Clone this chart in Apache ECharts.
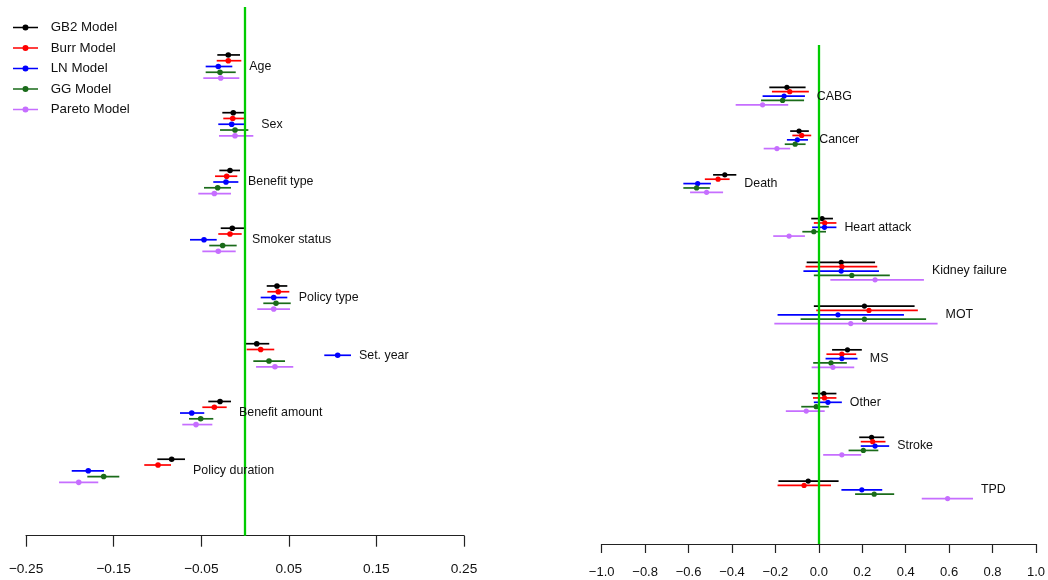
<!DOCTYPE html>
<html>
<head>
<meta charset="utf-8">
<script src="https://cdn.jsdelivr.net/npm/echarts@6/dist/echarts.min.js"></script>
<style>
html,body{margin:0;padding:0;background:#fff;}
#chart{width:1048px;height:580px;}
</style>
</head>
<body>
<div id="chart"></div>
<script>
// ---------- data ----------
const models = ['GB2 Model', 'Burr Model', 'LN Model', 'GG Model', 'Pareto Model'];
const leftCategories = ['Age', 'Sex', 'Benefit type', 'Smoker status', 'Policy type', 'Set. year', 'Benefit amount', 'Policy duration'];
const rightCategories = ['CABG', 'Cancer', 'Death', 'Heart attack', 'Kidney failure', 'MOT', 'MS', 'Other', 'Stroke', 'TPD'];
const leftTicks = [-0.25, -0.15, -0.05, 0.05, 0.15, 0.25];
const rightTicks = [-1.0, -0.8, -0.6, -0.4, -0.2, 0.0, 0.2, 0.4, 0.6, 0.8, 1.0];

// [estimate, lower, upper] per category
const leftGB2 = [[-0.0191,-0.0316,-0.0057],[-0.0134,-0.0259,0.0000],[-0.0171,-0.0293,-0.0057],[-0.0145,-0.0277,-0.0011],[0.0365,0.0248,0.0483],[0.0134,0.0000,0.0277],[-0.0285,-0.0419,-0.0160],[-0.0837,-0.1001,-0.0685]];
const leftBurr = [[-0.0191,-0.0323,-0.0042],[-0.0140,-0.0248,0.0008],[-0.0209,-0.0342,-0.0088],[-0.0171,-0.0305,-0.0038],[0.0380,0.0255,0.0506],[0.0179,0.0019,0.0334],[-0.0350,-0.0487,-0.0209],[-0.0993,-0.1150,-0.0845]];
const leftLN = [[-0.0305,-0.0449,-0.0145],[-0.0152,-0.0305,-0.0008],[-0.0217,-0.0362,-0.0076],[-0.0468,-0.0628,-0.0323],[0.0328,0.0179,0.0483],[0.1058,0.0905,0.1210],[-0.0608,-0.0742,-0.0465],[-0.1789,-0.1978,-0.1610]];
const leftGG = [[-0.0285,-0.0449,-0.0106],[-0.0114,-0.0285,0.0038],[-0.0312,-0.0468,-0.0160],[-0.0255,-0.0408,-0.0095],[0.0354,0.0209,0.0522],[0.0274,0.0095,0.0457],[-0.0506,-0.0639,-0.0362],[-0.1613,-0.1800,-0.1435]];
const leftPareto = [[-0.0277,-0.0476,-0.0065],[-0.0114,-0.0297,0.0095],[-0.0350,-0.0533,-0.0160],[-0.0305,-0.0487,-0.0106],[0.0328,0.0140,0.0514],[0.0342,0.0126,0.0551],[-0.0559,-0.0716,-0.0373],[-0.1898,-0.2123,-0.1675]];

const rightGB2 = [[-0.147,-0.228,-0.061],[-0.091,-0.132,-0.046],[-0.433,-0.487,-0.380],[0.015,-0.035,0.065],[0.103,-0.056,0.259],[0.210,-0.023,0.441],[0.132,0.061,0.198],[0.023,-0.033,0.081],[0.243,0.186,0.301],[-0.049,-0.186,0.091]];
const rightBurr = [[-0.134,-0.216,-0.046],[-0.079,-0.122,-0.035],[-0.464,-0.525,-0.411],[0.027,-0.023,0.081],[0.106,-0.061,0.269],[0.231,-0.012,0.456],[0.106,0.035,0.172],[0.026,-0.027,0.081],[0.248,0.193,0.307],[-0.068,-0.190,0.056]];
const rightLN = [[-0.160,-0.259,-0.064],[-0.099,-0.147,-0.050],[-0.558,-0.624,-0.497],[0.026,-0.031,0.081],[0.103,-0.071,0.277],[0.088,-0.190,0.392],[0.106,0.031,0.178],[0.042,-0.023,0.106],[0.259,0.193,0.324],[0.198,0.104,0.292]];
const rightGG = [[-0.167,-0.266,-0.068],[-0.109,-0.157,-0.061],[-0.563,-0.624,-0.502],[-0.023,-0.076,0.033],[0.152,-0.023,0.327],[0.210,-0.084,0.494],[0.056,-0.026,0.129],[-0.012,-0.081,0.046],[0.205,0.137,0.274],[0.255,0.167,0.347]];
const rightPareto = [[-0.259,-0.383,-0.141],[-0.193,-0.254,-0.132],[-0.517,-0.593,-0.441],[-0.137,-0.210,-0.064],[0.259,0.053,0.484],[0.147,-0.205,0.547],[0.065,-0.033,0.163],[-0.058,-0.152,0.027],[0.106,0.020,0.195],[0.593,0.474,0.710]];

// ---------- styling / layout ----------
const colors = ['#000000', '#FF0000', '#0000FF', '#1A6B1A', '#C66EFF'];
const modelOffset = [-0.2, -0.1, 0, 0.1, 0.2];
const FONT = '"Liberation Sans", Arial, Helvetica, sans-serif';
const leftSets = [leftGB2, leftBurr, leftLN, leftGG, leftPareto];
const rightSets = [rightGB2, rightBurr, rightLN, rightGG, rightPareto];

function fmtMinus(s) { return s.replace('-', '\u2212'); }

function renderBar(params, api) {
  const y = api.value(3);
  const lo = api.coord([api.value(1), y]);
  const hi = api.coord([api.value(2), y]);
  const pt = api.coord([api.value(0), y]);
  const color = api.visual('color');
  const r = params.seriesIndex < 5 ? 2.8 : 2.6;
  return {
    type: 'group',
    children: [
      { type: 'line', shape: { x1: lo[0], y1: lo[1], x2: hi[0], y2: hi[1] }, style: { stroke: color, lineWidth: 1.7 } },
      { type: 'circle', shape: { cx: pt[0], cy: pt[1], r: r }, style: { fill: color } }
    ]
  };
}

function renderLabel(params, api) {
  const p = api.coord([api.value(0), api.value(1)]);
  return {
    type: 'text',
    x: p[0] + 8,
    y: p[1],
    style: { text: api.value(2), fill: '#111', font: '12.4px ' + FONT, align: 'left', verticalAlign: 'middle' }
  };
}

const series = [];
function addPanel(sets, cats, idx) {
  sets.forEach(function (set, m) {
    series.push({
      name: models[m],
      type: 'custom',
      xAxisIndex: idx, yAxisIndex: idx,
      itemStyle: { color: colors[m] },
      renderItem: renderBar,
      encode: { x: [0, 1, 2], y: 3 },
      z: 2,
      data: set.map(function (d, i) { return [d[0], d[1], d[2], i + 1 + modelOffset[m]]; })
    });
  });
  // group labels, placed right of the widest interval
  series.push({
    type: 'custom',
    xAxisIndex: idx, yAxisIndex: idx,
    renderItem: renderLabel,
    encode: { x: 0, y: 1 },
    z: 6,
    data: cats.map(function (c, i) {
      let mx = -Infinity;
      sets.forEach(function (s) { mx = Math.max(mx, s[i][2]); });
      return [mx, i + 1, c];
    }),
    markLine: {
      silent: true, symbol: 'none', animation: false,
      label: { show: false },
      lineStyle: { color: '#00CC00', width: 2.3, type: 'solid' },
      data: [{ xAxis: 0 }],
      z: 5
    }
  });
}
addPanel(leftSets, leftCategories, 0);
addPanel(rightSets, rightCategories, 1);

const option = {
  animation: false,
  backgroundColor: '#ffffff',
  legend: {
    orient: 'vertical',
    left: 13, top: 20.5, padding: 0,
    itemWidth: 25, itemHeight: 8, itemGap: 6.5,
    selectedMode: false,
    textStyle: { fontFamily: FONT, fontSize: 13.3, color: '#111', lineHeight: 14, padding: [0, 0, 0, 7.7] },
    data: models.map(function (n) { return { name: n, icon: 'path://M0,3.15 H9.5 V4.85 H0 Z M15.5,3.15 H25 V4.85 H15.5 Z M12.5,1 A3,3 0 1,1 12.49,1 Z M9,3.15 H16 V4.85 H9 Z' }; })
  },
  grid: [
    { left: 26, top: 7, width: 438, height: 528.7 },
    { left: 601.7, top: 45, width: 438.3, height: 499 }
  ],
  xAxis: [
    {
      type: 'value', gridIndex: 0, min: -0.25, max: 0.25,
      splitLine: { show: false },
      axisLine: { show: true, onZero: false, lineStyle: { color: '#222', width: 1.2 } },
      axisTick: { show: true, length: 11, customValues: leftTicks, lineStyle: { color: '#222', width: 1.2 } },
      axisLabel: { customValues: leftTicks, margin: 27, color: '#111', fontFamily: FONT, fontSize: 13.7,
        formatter: function (v) { return fmtMinus(Number(v).toFixed(2)); } }
    },
    {
      type: 'value', gridIndex: 1, min: -1, max: 1,
      splitLine: { show: false },
      axisLine: { show: true, onZero: false, lineStyle: { color: '#222', width: 1.2 } },
      axisTick: { show: true, length: 9, customValues: rightTicks, lineStyle: { color: '#222', width: 1.2 } },
      axisLabel: { customValues: rightTicks, margin: 22, color: '#111', fontFamily: FONT, fontSize: 13,
        formatter: function (v) { return fmtMinus(Number(v).toFixed(1)); } }
    }
  ],
  yAxis: [
    { type: 'value', gridIndex: 0, inverse: true, min: -0.030, max: 9.124, show: false, splitLine: { show: false } },
    { type: 'value', gridIndex: 1, inverse: true, min: -0.168, max: 11.239, show: false, splitLine: { show: false } }
  ],
  series: series
};

const chart = echarts.init(document.getElementById('chart'), null, { renderer: 'canvas' });
chart.setOption(option);
</script>
</body>
</html>
